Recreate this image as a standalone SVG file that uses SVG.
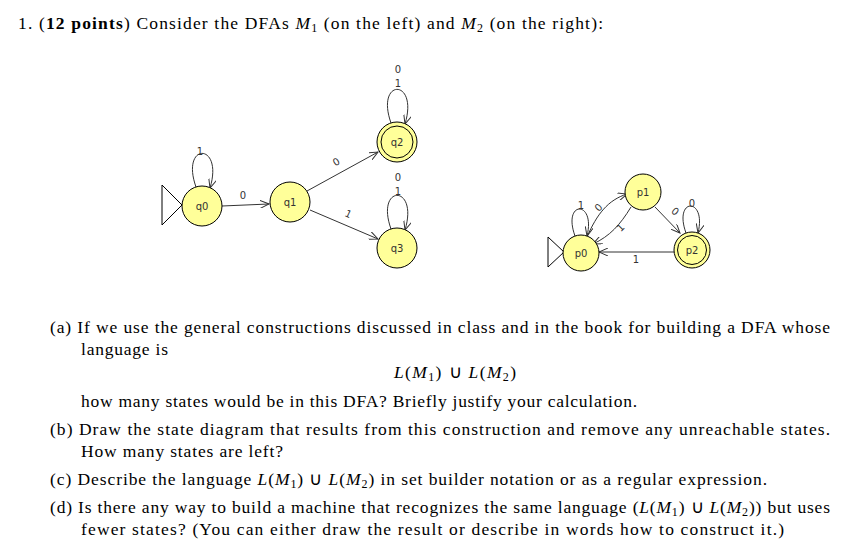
<svg xmlns="http://www.w3.org/2000/svg" width="861" height="547" viewBox="0 0 861 547">
<style>
.t{font-family:"Liberation Serif",serif;font-size:17.5px;fill:#000}
.i{font-style:italic}
.b{font-weight:bold}
.s{font-family:"DejaVu Sans",sans-serif;font-size:10px;fill:#333;text-anchor:middle}
.st{fill:#ffff99;stroke:#000;stroke-width:1}
.e{fill:none;stroke:#333;stroke-width:1}
</style>
<defs><marker id="a" markerWidth="10" markerHeight="8" refX="9" refY="4" orient="auto" markerUnits="userSpaceOnUse"><path d="M0,0 L9,4 L0,8" fill="none" stroke="#333"/></marker></defs>
<rect width="861" height="547" fill="#fff"/>
<text class="t" x="18" y="29" textLength="585" lengthAdjust="spacing">1. (<tspan class="b">12 points</tspan>) Consider the DFAs <tspan class="i">M</tspan><tspan font-size="12" dy="3">1</tspan><tspan dy="-3"> (on the left) and </tspan><tspan class="i">M</tspan><tspan font-size="12" dy="3">2</tspan><tspan dy="-3"> (on the right):</tspan></text>
<g id="connectors">
<line class="e" x1="222" y1="206" x2="269" y2="204" marker-end="url(#a)"/>
<line class="e" x1="307" y1="191" x2="378" y2="152" marker-end="url(#a)"/>
<line class="e" x1="310" y1="210" x2="378" y2="239" marker-end="url(#a)"/>
<path class="e" d="M196,187 C180,142 224,142 210,188" marker-end="url(#a)"/>
<path class="e" d="M391,123 C375,78 419,78 405,124" marker-end="url(#a)"/>
<path class="e" d="M391,229 C375,184 419,184 405,230" marker-end="url(#a)"/>
<path class="e" d="M575,236 C562,200 596,200 587,236" marker-end="url(#a)"/>
<path class="e" d="M587,237 C597,214 608,200 627,194" marker-end="url(#a)"/>
<path class="e" d="M631,207 C620,225 610,236 593,244" marker-end="url(#a)"/>
<path class="e" d="M655,207 L680,233" marker-end="url(#a)"/>
<path class="e" d="M686,233 C673,197 707,197 698,233" marker-end="url(#a)"/>
<line class="e" x1="674" y1="252" x2="599" y2="252" marker-end="url(#a)"/>
</g>
<g class="s">
<text x="243" y="199">0</text>
<text x="338" y="165" transform="rotate(-30 338 165)">0</text>
<text x="347" y="217" transform="rotate(25 347 217)">1</text>
<text x="200" y="155">1</text>
<text x="398" y="73">0</text><text x="398" y="87">1</text>
<text x="398" y="181">0</text><text x="398" y="195">1</text>
<text x="581" y="209">1</text>
<text x="601" y="210" transform="rotate(-45 601 210)">0</text>
<text x="623" y="230" transform="rotate(-45 623 230)">1</text>
<text x="673" y="214" transform="rotate(40 673 214)">0</text>
<text x="692" y="207">0</text>
<text x="636" y="263">1</text>
</g>
<g id="q0"><path d="M162,185 L162,225 L182,205 Z" fill="none" stroke="#000"/><circle class="st" cx="202" cy="206" r="20"/><text class="s" x="202" y="210">q0</text></g>
<g id="q1"><circle class="st" cx="290" cy="202" r="20"/><text class="s" x="290" y="206">q1</text></g>
<g id="q2"><circle class="st" cx="397" cy="142" r="20"/><circle cx="397" cy="142" r="16" fill="none" stroke="#000"/><text class="s" x="397" y="146">q2</text></g>
<g id="q3"><circle class="st" cx="397" cy="248" r="20"/><text class="s" x="397" y="252">q3</text></g>
<g id="p0"><path d="M548,237 L548,267 L564,252 Z" fill="none" stroke="#000"/><circle class="st" cx="581" cy="253" r="18"/><text class="s" x="581" y="257">p0</text></g>
<g id="p1"><circle class="st" cx="643" cy="192" r="18"/><text class="s" x="643" y="196">p1</text></g>
<g id="p2"><circle class="st" cx="692" cy="250" r="18"/><circle cx="692" cy="250" r="14.5" fill="none" stroke="#000"/><text class="s" x="692" y="254">p2</text></g>
<text class="t" x="50" y="333" textLength="780" lengthAdjust="spacing">(a)  If we use the general constructions discussed in class and in the book for building a DFA whose</text>
<text class="t" x="81" y="355" textLength="87" lengthAdjust="spacing">language is</text>
<text class="t" x="394" y="378" textLength="122" lengthAdjust="spacing"><tspan class="i">L</tspan>(<tspan class="i">M</tspan><tspan font-size="12" dy="3">1</tspan><tspan dy="-3">) ∪ </tspan><tspan class="i">L</tspan>(<tspan class="i">M</tspan><tspan font-size="12" dy="3">2</tspan><tspan dy="-3">)</tspan></text>
<text class="t" x="81" y="407" textLength="556" lengthAdjust="spacing">how many states would be in this DFA? Briefly justify your calculation.</text>
<text class="t" x="50" y="435" textLength="780" lengthAdjust="spacing">(b)  Draw the state diagram that results from this construction and remove any unreachable states.</text>
<text class="t" x="81" y="457" textLength="202" lengthAdjust="spacing">How many states are left?</text>
<text class="t" x="50" y="485" textLength="717" lengthAdjust="spacing">(c)  Describe the language <tspan class="i">L</tspan>(<tspan class="i">M</tspan><tspan font-size="12" dy="3">1</tspan><tspan dy="-3">) ∪ </tspan><tspan class="i">L</tspan>(<tspan class="i">M</tspan><tspan font-size="12" dy="3">2</tspan><tspan dy="-3">) in set builder notation or as a regular expression.</tspan></text>
<text class="t" x="50" y="513" textLength="780" lengthAdjust="spacing">(d)  Is there any way to build a machine that recognizes the same language (<tspan class="i">L</tspan>(<tspan class="i">M</tspan><tspan font-size="12" dy="3">1</tspan><tspan dy="-3">) ∪ </tspan><tspan class="i">L</tspan>(<tspan class="i">M</tspan><tspan font-size="12" dy="3">2</tspan><tspan dy="-3">)) but uses</tspan></text>
<text class="t" x="81" y="535" textLength="703" lengthAdjust="spacing">fewer states? (You can either draw the result or describe in words how to construct it.)</text>
</svg>
